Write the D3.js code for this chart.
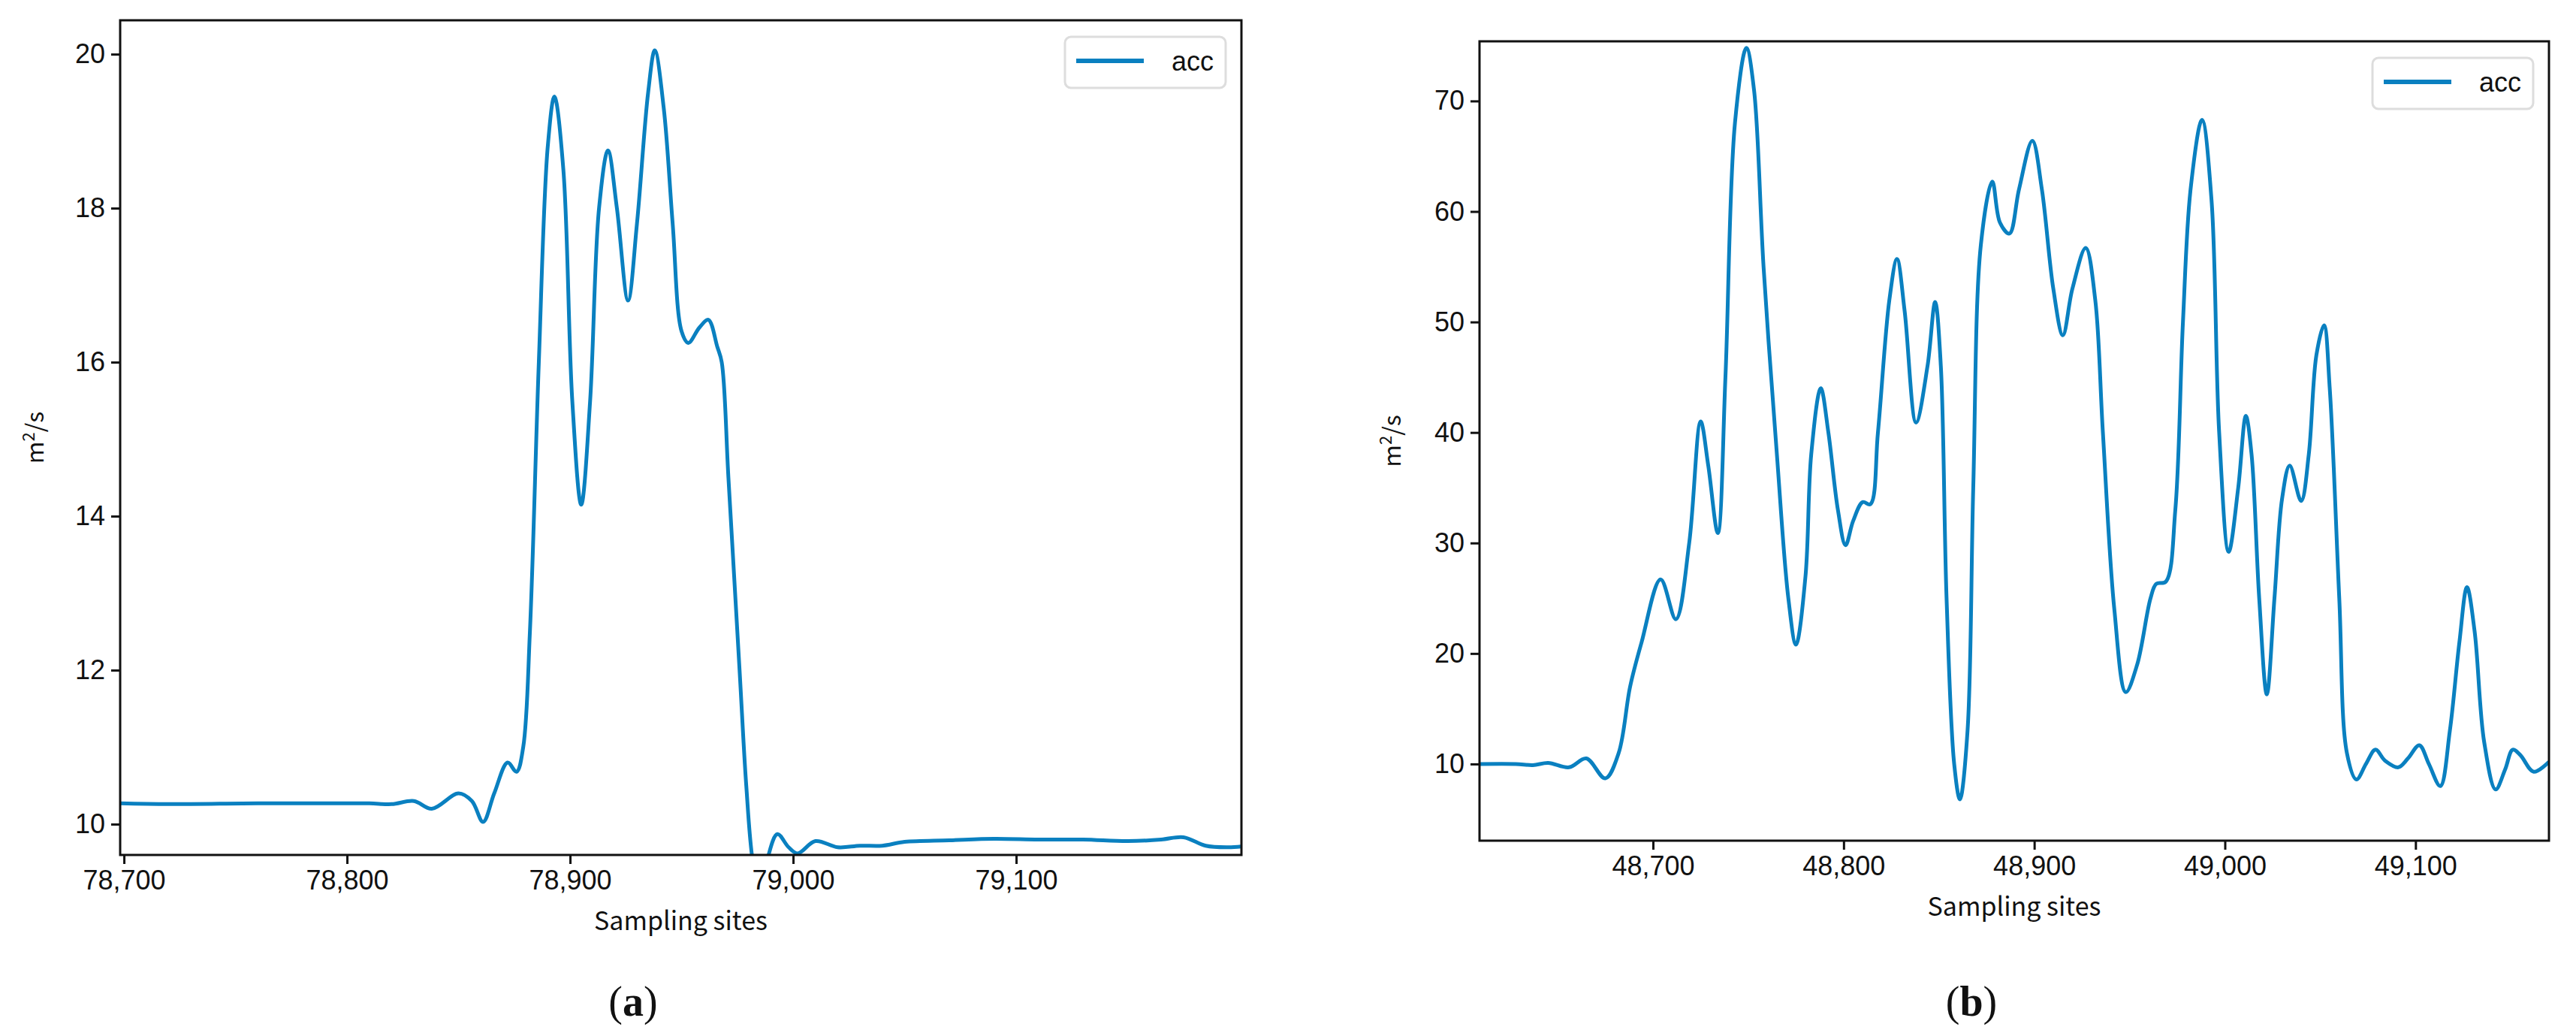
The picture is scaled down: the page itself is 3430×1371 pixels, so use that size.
<!DOCTYPE html>
<html><head><meta charset="utf-8">
<script src="https://cdn.jsdelivr.net/npm/d3@7"></script>
<style>body{margin:0;background:#fff}</style></head>
<body><svg id="c" width="3430" height="1371"></svg>
<script>
const seriesName = "acc";
const aX = [78698,78720,78760,78790,78810,78820,78830,78838,78850,78856,78861,78866,78872,78876,78879,78882,78886,78890,78893,78897,78901,78905,78909,78913,78917,78921,78926,78930,78935,78938,78942,78946,78950,78953,78958,78962,78966,78968,78971,78976,78979,78982,78986,78989,78993,78998,79002,79010,79020,79030,79040,79050,79070,79090,79110,79130,79150,79165,79175,79185,79195,79201];
const aY = [10.27,10.26,10.27,10.27,10.27,10.26,10.3,10.2,10.4,10.3,10.03,10.4,10.8,10.68,11.0,12.5,16,18.8,19.45,18.5,15.5,14.15,15.5,18,18.75,18,16.8,17.8,19.5,20.05,19.3,17.8,16.4,16.25,16.45,16.55,16.2,16.0,14.5,12.0,10.5,9.5,9.0,9.6,9.87,9.7,9.62,9.78,9.7,9.72,9.72,9.77,9.79,9.81,9.8,9.8,9.78,9.8,9.83,9.72,9.7,9.71];
const bX = [48609,48628,48637,48645,48656,48665,48675,48682,48688,48694,48704,48712,48719,48725,48729,48734,48738,48743,48749,48753,48758,48765,48771,48775,48780,48783,48788,48792,48797,48801,48805,48810,48814,48818,48824,48828,48832,48838,48844,48848,48851,48854,48858,48861,48865,48868,48872,48878,48882,48887,48892,48899,48904,48910,48915,48920,48927,48932,48936,48942,48948,48954,48961,48964,48969,48974,48978,48982,48988,48993,48997,49002,49007,49011,49014,49018,49022,49026,49030,49034,49040,49044,49048,49052,49055,49060,49064,49069,49074,49079,49084,49091,49096,49102,49107,49113,49118,49123,49127,49131,49136,49142,49147,49151,49155,49162,49170];
const bY = [10,10.0,9.9,10.1,9.7,10.5,8.7,11,17,21,26.7,23.1,30,41,37,30.9,45,68,74.8,71,55,38,25,20.8,27,38,44,40,33,29.8,32,33.7,33.5,40,52,55.7,51,40.9,46,51.8,46,25,10,6.8,13,35,57,62.7,59,58,62,66.4,62,53,48.8,53,56.7,52,40,24,16.5,19,25,26.3,26.5,33,50,62,68.3,61,40,29.2,35,41.5,38,25,16.3,25,34,37,33.8,38,47,49.7,44,25,11,8.6,10,11.3,10.3,9.7,10.5,11.7,10,8.0,13,21,26,22,12,7.7,9.5,11.3,10.8,9.3,10.2];
const aXTicks = [78700,78800,78900,79000,79100];
const aYTicks = [10,12,14,16,18,20];
const bXTicks = [48700,48800,48900,49000,49100];
const bYTicks = [10,20,30,40,50,60,70];
const xLabel = "Sampling sites", captions = ["(a)","(b)"];

const svg = d3.select("#c");
const color = "#0a80c0";
const fmt = d3.format(",");
function panel(id, box, xd, yd, xs, ys, xt, yt, cap, ylx, capx){
  const g = svg.append("g");
  const x = d3.scaleLinear().domain(xd).range([box.l, box.r]);
  const y = d3.scaleLinear().domain(yd).range([box.b, box.t]);
  g.append("clipPath").attr("id","clip"+id).append("rect")
    .attr("x",box.l).attr("y",box.t).attr("width",box.r-box.l).attr("height",box.b-box.t);
  const pts = xs.map((v,i)=>[v, ys[i]]);
  g.append("path").datum(pts).attr("clip-path","url(#clip"+id+")")
    .attr("fill","none").attr("stroke",color).attr("stroke-width",5)
    .attr("d", d3.line().x(d=>x(d[0])).y(d=>y(d[1])).curve(d3.curveCatmullRom.alpha(0.5)));
  g.append("rect").attr("x",box.l).attr("y",box.t).attr("width",box.r-box.l).attr("height",box.b-box.t)
    .attr("fill","none").attr("stroke","#111").attr("stroke-width",3);
  const xa = g.append("g").attr("transform",`translate(0,${box.b})`)
    .call(d3.axisBottom(x).tickValues(xt).tickFormat(fmt).tickSize(12).tickPadding(8));
  const ya = g.append("g").attr("transform",`translate(${box.l},0)`)
    .call(d3.axisLeft(y).tickValues(yt).tickSize(12).tickPadding(8));
  [xa,ya].forEach(a=>{a.select(".domain").remove();
    a.selectAll("line").attr("stroke","#111").attr("stroke-width",3);
    a.selectAll("text").attr("font-family","Liberation Sans, Arial").attr("font-size",36).attr("fill","#111");});
  g.append("text").attr("x",(box.l+box.r)/2).attr("y",box.b+100).attr("text-anchor","middle")
    .attr("font-family","Noto Sans CJK SC").attr("font-size",34).attr("fill","#111").text(xLabel);
  const yl = g.append("text").attr("transform",`translate(${ylx},${(box.t+box.b)/2}) rotate(-90)`)
    .attr("text-anchor","middle").attr("font-family","Noto Sans CJK SC").attr("font-size",32).attr("fill","#111");
  yl.append("tspan").text("m");
  yl.append("tspan").attr("dy",-12).attr("font-size",22).text("2");
  yl.append("tspan").attr("dy",12).text("/s");
  g.append("text").attr("x",capx).attr("y",1352).attr("text-anchor","middle")
    .attr("font-family","Liberation Serif, Times New Roman").attr("font-size",56).attr("fill","#111")
    .html('(<tspan font-weight="bold">'+cap.slice(1,2)+'</tspan>)');
  const lg = g.append("g").attr("transform",`translate(${box.r-235},${box.t+22})`);
  lg.append("rect").attr("width",214).attr("height",68).attr("rx",8).attr("fill","#fff").attr("stroke","#ddd").attr("stroke-width",3);
  lg.append("line").attr("x1",15).attr("x2",105).attr("y1",32).attr("y2",32).attr("stroke",color).attr("stroke-width",6);
  lg.append("text").attr("x",198).attr("y",45).attr("text-anchor","end").attr("font-family","Liberation Sans, Arial").attr("font-size",36).attr("fill","#111").text(seriesName);
}
panel("a",{l:160,r:1653,t:27,b:1138},[78698.3,79201],[9.6,20.44],aX,aY,aXTicks,aYTicks,captions[0],58,843);
panel("b",{l:1970,r:3394,t:55,b:1119},[48609,49170],[3.06,75.4],bX,bY,bXTicks,bYTicks,captions[1],1865,2625);
</script></body></html>
